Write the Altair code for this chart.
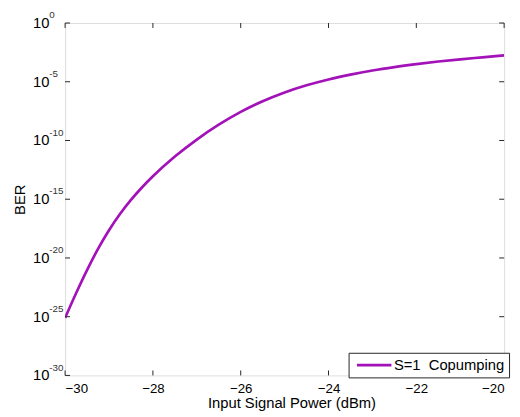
import altair as alt
import pandas as pd

# Data
power_dbm = [-30, -29.75, -29.5, -29.25, -29, -28.75, -28.5, -28.25, -28, -27.5, -27, -26.5,
             -26, -25.5, -25, -24.5, -24, -23.5, -23, -22.5, -22, -21.5, -21, -20.5, -20]
ber = [7.94e-26, 1.00e-23, 9.33e-22, 5.89e-20, 2.29e-18, 5.50e-17, 8.71e-16, 1.00e-14,
       8.91e-14, 4.27e-12, 1.20e-10, 2.19e-9, 2.69e-8, 2.19e-7, 1.23e-6, 5.01e-6, 1.58e-5,
       4.07e-5, 9.12e-5, 1.78e-4, 3.16e-4, 5.25e-4, 8.13e-4, 1.20e-3, 1.78e-3]
series_name = "S=1\u00a0 Copumping"

x_ticks = [-30, -28, -26, -24, -22, -20]
y_exponents = [0, -5, -10, -15, -20, -25, -30]
y_ticks = [10.0 ** e for e in y_exponents]

W, H = 446, 358
LINE_COLOR = "#A312B8"
FRAME = "#262626"
FONT = "Liberation Sans"

df = pd.DataFrame({"p": power_dbm, "ber": ber, "s": [series_name] * len(ber)})
ydf = pd.DataFrame({"v": y_ticks, "e": [str(e) for e in y_exponents], "b": ["10"] * len(y_ticks)})
xdf = pd.DataFrame({"x": x_ticks})

xscale = alt.Scale(domain=[-30, -20], nice=False, zero=False)
yscale = alt.Scale(type="log", domain=[1e-30, 1], nice=False)

x_enc = alt.X("p:Q", scale=xscale,
              axis=alt.Axis(values=x_ticks, format="d", tickSize=0, domain=False, grid=False,
                            labelFont=FONT, labelFontSize=13.5, labelFontWeight="normal",
                            labelColor="black", labelPadding=6,
                            title="Input Signal Power (dBm)", titleFont=FONT,
                            titleFontSize=15, titleFontWeight="normal", titleColor="black",
                            titleX=230, titleY=33, titleAlign="center",
                            titleBaseline="alphabetic"))
y_enc = alt.Y("ber:Q", scale=yscale,
              axis=alt.Axis(labels=False, ticks=False, domain=False, grid=False,
                            title="BER", titleFont=FONT, titleFontSize=15,
                            titleFontWeight="normal", titleColor="black", titleAngle=-90,
                            titleX=-46, titleY=H / 2, titleAlign="center",
                            titleBaseline="middle"))

line = alt.Chart(df).mark_line(strokeWidth=2.7, interpolate="monotone", clip=True).encode(
    x=x_enc, y=y_enc,
    color=alt.Color("s:N", scale=alt.Scale(range=[LINE_COLOR]),
                    legend=alt.Legend(title=None, orient="none", legendX=W - 158,
                                      legendY=H - 23,
                                      symbolType="M-0.57,0H4.43", symbolSize=196,
                                      symbolStrokeWidth=2.7, labelFont=FONT,
                                      labelFontSize=15, labelColor="black", labelOffset=25,
                                      strokeColor=FRAME, fillColor="white", padding=4,
                                      cornerRadius=0)))

# inward tick marks on all four sides
xt_bottom = alt.Chart(xdf).mark_rule(color=FRAME, strokeWidth=1).encode(
    x=alt.X("x:Q", scale=xscale), y=alt.value(H), y2=alt.value(H - 5))
xt_top = alt.Chart(xdf).mark_rule(color=FRAME, strokeWidth=1).encode(
    x=alt.X("x:Q", scale=xscale), y=alt.value(0), y2=alt.value(5))
yt_left = alt.Chart(ydf).mark_rule(color=FRAME, strokeWidth=1).encode(
    y=alt.Y("v:Q", scale=yscale), x=alt.value(0), x2=alt.value(5))
yt_right = alt.Chart(ydf).mark_rule(color=FRAME, strokeWidth=1).encode(
    y=alt.Y("v:Q", scale=yscale), x=alt.value(W), x2=alt.value(W - 5))

# y tick labels: "10" with superscript exponent
ylab_base = alt.Chart(ydf).mark_text(align="right", baseline="middle", font=FONT,
                                     fontSize=15, fontWeight="normal", color="black").encode(
    y=alt.Y("v:Q", scale=yscale), x=alt.value(-16), text="b:N")
ylab_exp = alt.Chart(ydf).mark_text(align="left", baseline="middle", font=FONT,
                                    fontSize=10, color="#333333", dy=-8).encode(
    y=alt.Y("v:Q", scale=yscale), x=alt.value(-16), text="e:N")

chart = alt.layer(line, xt_bottom, xt_top, yt_left, yt_right, ylab_base, ylab_exp).properties(
    width=W, height=H,
    autosize=alt.AutoSizeParams(type="none"),
    padding={"left": 58, "top": 12, "right": 8, "bottom": 40},
).configure_view(stroke=FRAME, strokeWidth=1.2).configure(background="white")

chart.save("out.html", embed_options={"renderer": "svg", "actions": False})
